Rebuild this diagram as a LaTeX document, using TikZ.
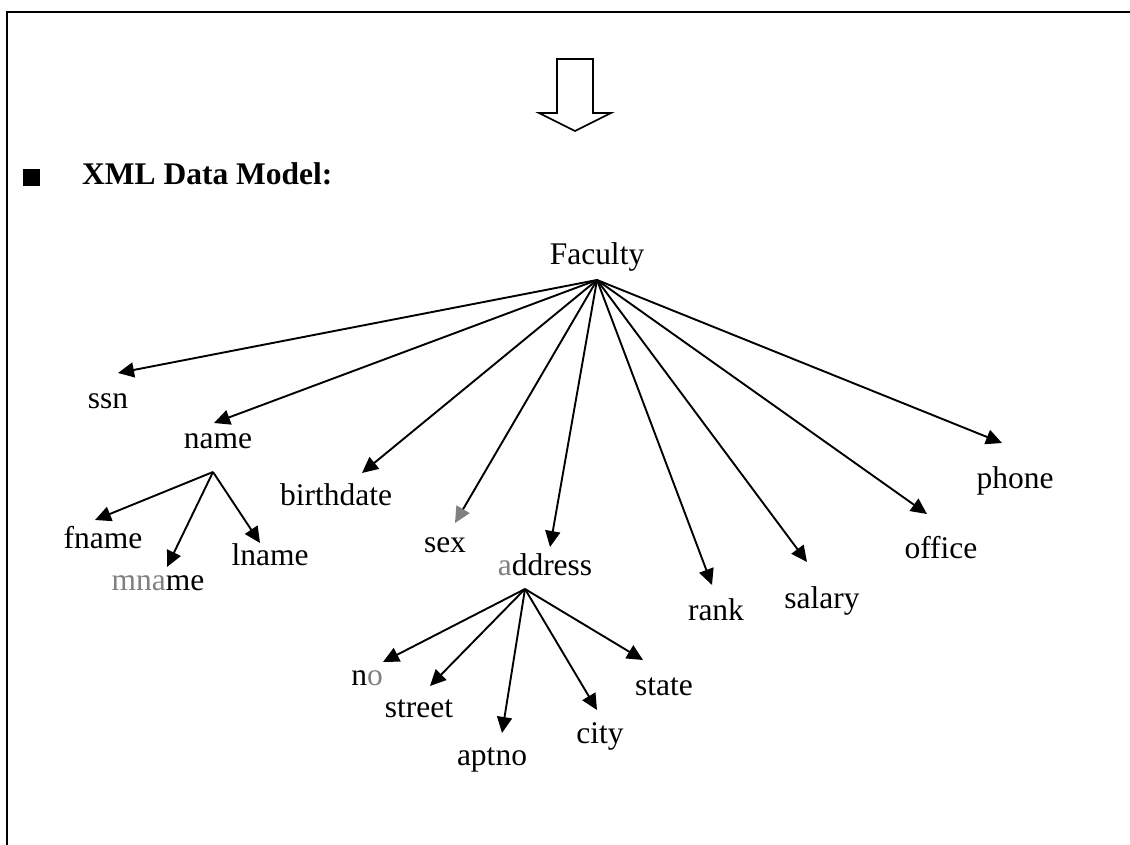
\documentclass[tikz,border=0pt]{standalone}
\usepackage{fontspec}
\setmainfont{Liberation Serif}
\usetikzlibrary{arrows.meta}
\definecolor{faint}{gray}{0.5}
\tikzset{
  lbl/.style={anchor=base, inner sep=0pt, font=\fontsize{31.5}{37}\selectfont},
  link/.style={line width=1.9pt, -{Triangle[length=16pt,width=15pt]}},
  fadedtip/.style={line width=1.9pt, -{Triangle[length=16pt,width=15pt,color=faint]}},
  frame/.style={line width=2.2pt},
  blockarrow/.style={line width=1.7pt, line join=miter}
}
\begin{document}
\begin{tikzpicture}[x=1pt,y=-1pt]
\useasboundingbox (0,0) rectangle (1130,845);

% page frame (open to the right and bottom)
\draw[frame] (7,845) -- (7,12) -- (1130,12);

% hollow down arrow
\draw[blockarrow] (557,59) -- (593,59) -- (593,113) -- (611,113) -- (575,131)
  -- (539,113) -- (557,113) -- cycle;

% heading with square bullet
\fill (23,169) rectangle (40,186);
\node[lbl, anchor=base west, font=\fontsize{31.5}{37}\selectfont\bfseries] (head) at (82,185) {XML Data Model:};

% root element
\node[lbl] (faculty) at (597,265) {Faculty};
\coordinate (froot) at (597,280);

% children of Faculty
\node[lbl] (ssn) at (108,408) {ssn};
\node[lbl] (name) at (218,448) {name};
\node[lbl] (birthdate) at (336,505) {birthdate};
\node[lbl] (sex) at (445,552) {sex};
\node[lbl] (address) at (545,575) {\textcolor{faint}{a}ddress};
\node[lbl] (rank) at (716,620) {rank};
\node[lbl] (salary) at (822,608) {salary};
\node[lbl] (office) at (941,558) {office};
\node[lbl] (phone) at (1015,488) {phone};

\coordinate (t-ssn) at (118,373);
\coordinate (t-name) at (214,423);
\coordinate (t-birthdate) at (362,473);
\coordinate (t-sex) at (455,523);
\coordinate (t-address) at (550,547);
\coordinate (t-rank) at (712,585);
\coordinate (t-salary) at (807,562);
\coordinate (t-office) at (927,514);
\coordinate (t-phone) at (1002,443);

\foreach \c in {ssn,name,birthdate,address,rank,salary,office,phone}
  \draw[link] (froot) -- (t-\c);
\draw[fadedtip] (froot) -- (t-sex);

% children of name
\coordinate (nroot) at (213,472);
\node[lbl] (fname) at (103,548) {fname};
\node[lbl] (mname) at (158,590) {\textcolor{faint}{mna}me};
\node[lbl] (lname) at (270,565) {lname};
\coordinate (t-fname) at (95,520);
\coordinate (t-mname) at (167,567);
\coordinate (t-lname) at (260,543);
\foreach \c in {fname,mname,lname}
  \draw[link] (nroot) -- (t-\c);

% children of address
\coordinate (aroot) at (525,589);
\node[lbl] (no) at (367,685) {n\textcolor{faint}{o}};
\node[lbl] (street) at (419,717) {street};
\node[lbl] (aptno) at (492,765) {aptno};
\node[lbl] (city) at (600,743) {city};
\node[lbl] (state) at (664,695) {state};
\coordinate (t-no) at (383,662);
\coordinate (t-street) at (430,686);
\coordinate (t-aptno) at (502,733);
\coordinate (t-city) at (597,710);
\coordinate (t-state) at (643,660);
\foreach \c in {no,street,aptno,city,state}
  \draw[link] (aroot) -- (t-\c);
\end{tikzpicture}
\end{document}
